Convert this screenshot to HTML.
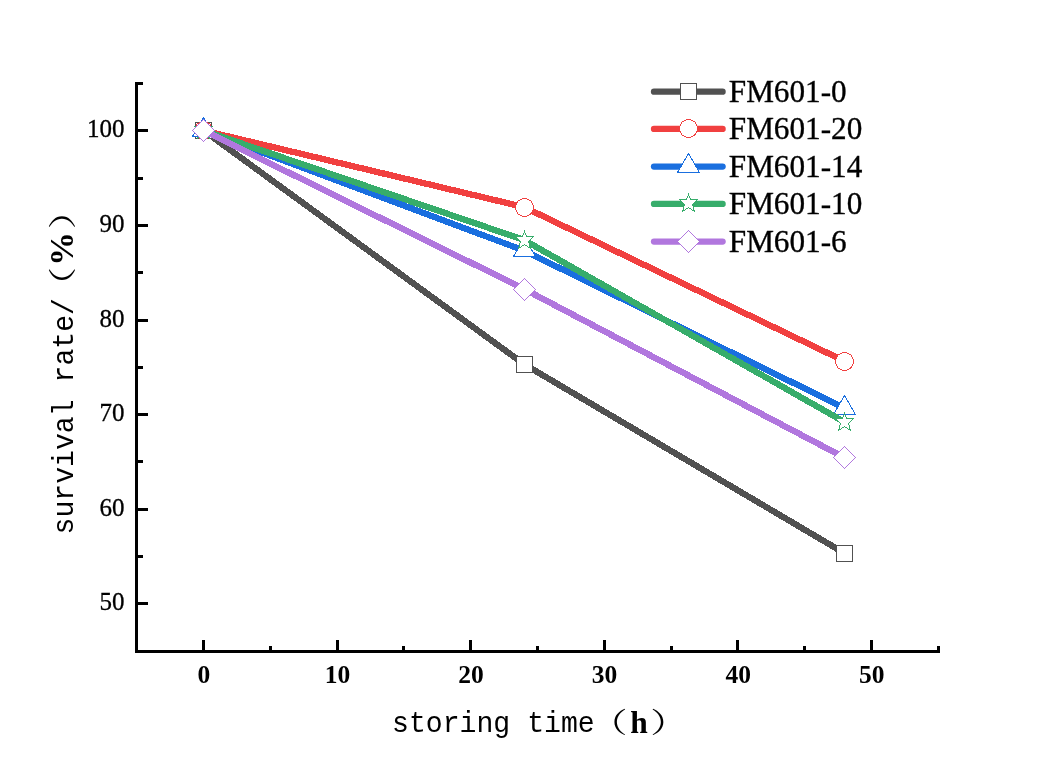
<!DOCTYPE html>
<html><head><meta charset="utf-8"><title>chart</title>
<style>
html,body{margin:0;padding:0;background:#fff;}
body{width:1061px;height:771px;overflow:hidden;}
svg{display:block;}
text{font-family:"Liberation Serif","Noto Serif CJK SC",serif;fill:#000;}
.yl{font-size:25px;text-anchor:end;stroke:#000;stroke-width:0.3px;}
.xl{font-size:25.5px;font-weight:bold;text-anchor:middle;}
.lg{font-size:31.2px;stroke:#000;stroke-width:0.35px;}
.mono{font-family:"Liberation Mono","Noto Serif CJK SC",monospace;font-size:30px;}
.b{font-family:"Liberation Serif",serif;font-weight:bold;}
.cjk{font-family:"Noto Serif CJK SC",serif;font-size:33.8px;}
</style></head><body>
<svg width="1061" height="771" viewBox="0 0 1061 771">
<rect width="1061" height="771" fill="#fff"/>

<polyline points="203.5,130.5 524.1,364.2 844.8,553.4" fill="none" stroke="#515151" stroke-width="6.3" stroke-linejoin="round" shape-rendering="crispEdges"/>
<rect x="195.5" y="122.5" width="16" height="16" fill="#fff" stroke="#515151" stroke-width="1" shape-rendering="crispEdges"/>
<rect x="516.5" y="356.5" width="16" height="16" fill="#fff" stroke="#515151" stroke-width="1" shape-rendering="crispEdges"/>
<rect x="836.5" y="545.5" width="16" height="16" fill="#fff" stroke="#515151" stroke-width="1" shape-rendering="crispEdges"/>
<polyline points="203.5,130.5 524.1,207.1 844.8,361.3" fill="none" stroke="#F14040" stroke-width="6.3" stroke-linejoin="round" shape-rendering="crispEdges"/>
<circle cx="203.5" cy="130.5" r="9" fill="#fff" stroke="#F14040" stroke-width="1" shape-rendering="crispEdges"/>
<circle cx="524.5" cy="207.5" r="9" fill="#fff" stroke="#F14040" stroke-width="1" shape-rendering="crispEdges"/>
<circle cx="844.5" cy="361.5" r="9" fill="#fff" stroke="#F14040" stroke-width="1" shape-rendering="crispEdges"/>
<polyline points="203.5,130.5 524.1,250.6 844.8,408.2" fill="none" stroke="#1A6FDF" stroke-width="6.3" stroke-linejoin="round" shape-rendering="crispEdges"/>
<polygon points="203.5,117.5 214.5,136.5 192.5,136.5" fill="#fff" stroke="#1A6FDF" stroke-width="1" shape-rendering="crispEdges"/>
<polygon points="524.5,237.5 535.5,256.5 513.5,256.5" fill="#fff" stroke="#1A6FDF" stroke-width="1" shape-rendering="crispEdges"/>
<polygon points="844.5,395.5 855.5,414.5 833.5,414.5" fill="#fff" stroke="#1A6FDF" stroke-width="1" shape-rendering="crispEdges"/>
<polyline points="203.5,130.5 524.1,240.0 844.8,422.2" fill="none" stroke="#37AD6B" stroke-width="6.3" stroke-linejoin="round" shape-rendering="crispEdges"/>
<polygon points="203.5,121.5 205.5,126.5 212.5,126.5 207.5,131.5 209.5,138.5 203.5,134.5 197.5,138.5 199.5,131.5 194.5,126.5 201.5,126.5" fill="#fff" stroke="#37AD6B" stroke-width="1" shape-rendering="crispEdges"/>
<polygon points="524.5,231.5 526.5,236.5 533.5,236.5 528.5,241.5 530.5,248.5 524.5,244.5 518.5,248.5 520.5,241.5 515.5,236.5 522.5,236.5" fill="#fff" stroke="#37AD6B" stroke-width="1" shape-rendering="crispEdges"/>
<polygon points="844.5,413.5 846.5,418.5 853.5,418.5 848.5,423.5 850.5,430.5 844.5,426.5 838.5,430.5 840.5,423.5 835.5,418.5 842.5,418.5" fill="#fff" stroke="#37AD6B" stroke-width="1" shape-rendering="crispEdges"/>
<polyline points="203.5,130.5 524.1,289.0 844.8,457.8" fill="none" stroke="#B177DE" stroke-width="6.3" stroke-linejoin="round" shape-rendering="crispEdges"/>
<polygon points="203.5,119.5 214.5,130.5 203.5,141.5 192.5,130.5" fill="#fff" stroke="#B177DE" stroke-width="1" shape-rendering="crispEdges"/>
<polygon points="524.5,278.5 535.5,289.5 524.5,300.5 513.5,289.5" fill="#fff" stroke="#B177DE" stroke-width="1" shape-rendering="crispEdges"/>
<polygon points="844.5,446.5 855.5,457.5 844.5,468.5 833.5,457.5" fill="#fff" stroke="#B177DE" stroke-width="1" shape-rendering="crispEdges"/>
<g fill="#000" shape-rendering="crispEdges">
<rect x="135" y="82" width="3" height="571"/>
<rect x="135" y="650" width="805" height="3"/>
<rect x="202" y="640" width="3" height="10"/>
<rect x="269" y="646" width="3" height="4"/>
<rect x="336" y="640" width="3" height="10"/>
<rect x="402" y="646" width="3" height="4"/>
<rect x="469" y="640" width="3" height="10"/>
<rect x="536" y="646" width="3" height="4"/>
<rect x="603" y="640" width="3" height="10"/>
<rect x="670" y="646" width="3" height="4"/>
<rect x="736" y="640" width="3" height="10"/>
<rect x="803" y="646" width="3" height="4"/>
<rect x="870" y="640" width="3" height="10"/>
<rect x="937" y="646" width="3" height="4"/>
<rect x="138" y="602" width="10" height="3"/>
<rect x="138" y="555" width="5" height="3"/>
<rect x="138" y="508" width="10" height="3"/>
<rect x="138" y="460" width="5" height="3"/>
<rect x="138" y="413" width="10" height="3"/>
<rect x="138" y="366" width="5" height="3"/>
<rect x="138" y="319" width="10" height="3"/>
<rect x="138" y="271" width="5" height="3"/>
<rect x="138" y="224" width="10" height="3"/>
<rect x="138" y="177" width="5" height="3"/>
<rect x="138" y="129" width="10" height="3"/>
<rect x="138" y="82" width="5" height="3"/>
</g>
<text class="xl" x="203.8" y="683.3">0</text>
<text class="xl" x="337.4" y="683.3">10</text>
<text class="xl" x="471.0" y="683.3">20</text>
<text class="xl" x="604.6" y="683.3">30</text>
<text class="xl" x="738.2" y="683.3">40</text>
<text class="xl" x="871.8" y="683.3">50</text>
<text class="yl" x="124.6" y="610.3">50</text>
<text class="yl" x="124.6" y="515.7">60</text>
<text class="yl" x="124.6" y="421.1">70</text>
<text class="yl" x="124.6" y="326.5">80</text>
<text class="yl" x="124.6" y="231.9">90</text>
<text class="yl" x="124.6" y="137.3">100</text>
<line x1="654" y1="91.7" x2="722.6" y2="91.7" stroke="#515151" stroke-width="6.3" stroke-linecap="round"/>
<rect x="680.5" y="83.5" width="16" height="16" fill="#fff" stroke="#515151" stroke-width="1" shape-rendering="crispEdges"/>
<text class="lg" x="728.8" y="102.0">FM601-0</text>
<line x1="654" y1="128.9" x2="722.6" y2="128.9" stroke="#F14040" stroke-width="6.3" stroke-linecap="round"/>
<circle cx="688.5" cy="128.5" r="9" fill="#fff" stroke="#F14040" stroke-width="1" shape-rendering="crispEdges"/>
<text class="lg" x="728.8" y="139.20000000000002">FM601-20</text>
<line x1="654" y1="166.6" x2="722.6" y2="166.6" stroke="#1A6FDF" stroke-width="6.3" stroke-linecap="round"/>
<polygon points="688.5,153.5 699.5,172.5 677.5,172.5" fill="#fff" stroke="#1A6FDF" stroke-width="1" shape-rendering="crispEdges"/>
<text class="lg" x="728.8" y="176.9">FM601-14</text>
<line x1="654" y1="203.9" x2="722.6" y2="203.9" stroke="#37AD6B" stroke-width="6.3" stroke-linecap="round"/>
<polygon points="688.5,194.5 690.5,199.5 697.5,199.5 692.5,204.5 694.5,211.5 688.5,207.5 682.5,211.5 684.5,204.5 679.5,199.5 686.5,199.5" fill="#fff" stroke="#37AD6B" stroke-width="1" shape-rendering="crispEdges"/>
<text class="lg" x="728.8" y="214.20000000000002">FM601-10</text>
<line x1="654" y1="241.6" x2="722.6" y2="241.6" stroke="#B177DE" stroke-width="6.3" stroke-linecap="round"/>
<polygon points="688.5,230.5 699.5,241.5 688.5,252.5 677.5,241.5" fill="#fff" stroke="#B177DE" stroke-width="1" shape-rendering="crispEdges"/>
<text class="lg" x="728.8" y="251.9">FM601-6</text>
<g transform="translate(393.5,732.3)"><text class="mono" transform="translate(-1.5,0) scale(0.9389,1)">storing time</text><text class="cjk" transform="translate(196.6,0.3) scale(1.11,0.827)">（</text><text class="b" font-size="31.5" x="236.8" y="0.4">h</text><text class="cjk" transform="translate(256.7,0.3) scale(1.11,0.827)">）</text></g>
<g transform="translate(72.8,533.5) rotate(-90)"><text class="mono" transform="translate(-1.0,0) scale(0.9389,1)">survival rate/</text><text class="cjk" transform="translate(229.1,0.3) scale(1.11,0.827)">（</text><text class="b" font-size="33.8" x="267.7" y="0.4">%</text><text class="cjk" transform="translate(304.3,0.3) scale(1.11,0.827)">）</text></g>
</svg></body></html>
